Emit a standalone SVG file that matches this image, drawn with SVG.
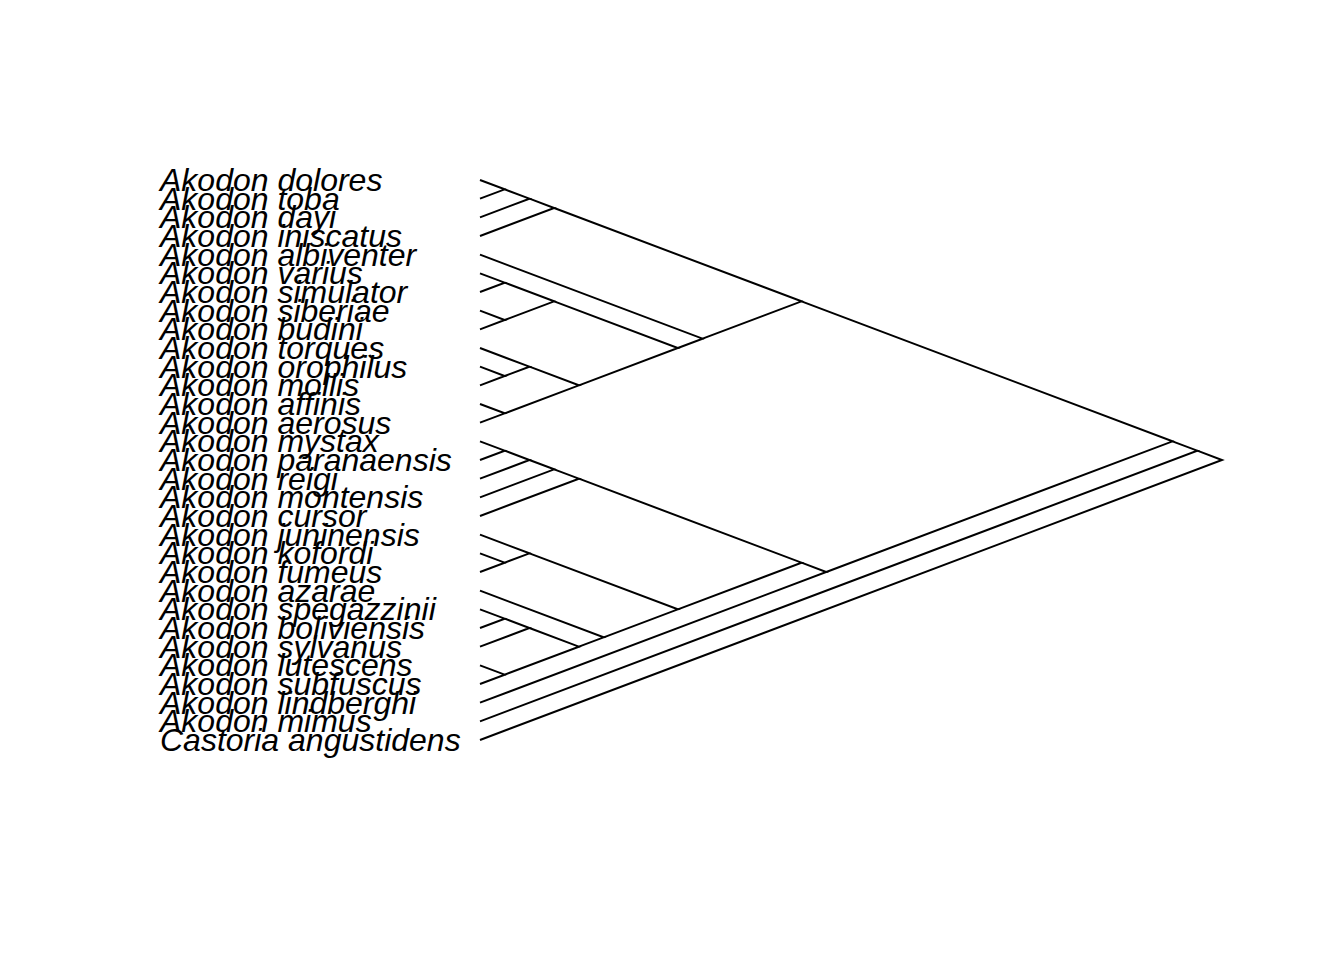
<svg xmlns="http://www.w3.org/2000/svg" width="1344" height="960" viewBox="0 0 1344 960">
<style>
.lbl{font-family:"Liberation Sans",Arial,sans-serif;font-style:italic;font-size:32px;fill:#000}
.edge{fill:none;stroke:#000;stroke-width:2;stroke-linejoin:miter;stroke-linecap:butt}
</style>
<rect x="0" y="0" width="1344" height="960" fill="#fff"/>
<g id="connectors">
<path class="edge" d="M1197.27,450.67 L1222,460 L480,740"/>
<path class="edge" d="M1172.53,441.33 L1197.27,450.67 L480,721.33"/>
<path class="edge" d="M801.53,301.33 L1172.53,441.33 L826.27,572"/>
<path class="edge" d="M554.2,208 L801.53,301.33 L702.6,338.67"/>
<path class="edge" d="M529.47,198.67 L554.2,208 L480,236"/>
<path class="edge" d="M504.73,189.33 L529.47,198.67 L480,217.33"/>
<path class="edge" d="M480,180 L504.73,189.33 L480,198.67"/>
<path class="edge" d="M480,254.67 L702.6,338.67 L677.87,348"/>
<path class="edge" d="M554.2,301.33 L677.87,348 L578.93,385.33"/>
<path class="edge" d="M504.73,282.67 L554.2,301.33 L504.73,320"/>
<path class="edge" d="M480,273.33 L504.73,282.67 L480,292"/>
<path class="edge" d="M480,310.67 L504.73,320 L480,329.33"/>
<path class="edge" d="M529.47,366.67 L578.93,385.33 L504.73,413.33"/>
<path class="edge" d="M480,348 L529.47,366.67 L504.73,376"/>
<path class="edge" d="M480,366.67 L504.73,376 L480,385.33"/>
<path class="edge" d="M480,404 L504.73,413.33 L480,422.67"/>
<path class="edge" d="M801.53,562.67 L826.27,572 L480,702.67"/>
<path class="edge" d="M578.93,478.67 L801.53,562.67 L677.87,609.33"/>
<path class="edge" d="M554.2,469.33 L578.93,478.67 L480,516"/>
<path class="edge" d="M529.47,460 L554.2,469.33 L480,497.33"/>
<path class="edge" d="M504.73,450.67 L529.47,460 L480,478.67"/>
<path class="edge" d="M480,441.33 L504.73,450.67 L480,460"/>
<path class="edge" d="M529.47,553.33 L677.87,609.33 L603.67,637.33"/>
<path class="edge" d="M480,534.67 L529.47,553.33 L504.73,562.67"/>
<path class="edge" d="M480,553.33 L504.73,562.67 L480,572"/>
<path class="edge" d="M480,590.67 L603.67,637.33 L578.93,646.67"/>
<path class="edge" d="M529.47,628 L578.93,646.67 L504.73,674.67"/>
<path class="edge" d="M504.73,618.67 L529.47,628 L480,646.67"/>
<path class="edge" d="M480,609.33 L504.73,618.67 L480,628"/>
<path class="edge" d="M480,665.33 L504.73,674.67 L480,684"/>
</g>
<g id="tip-dolores"><text class="lbl" x="160" y="191">Akodon dolores</text></g>
<g id="tip-toba"><text class="lbl" x="160" y="209.67">Akodon toba</text></g>
<g id="tip-dayi"><text class="lbl" x="160" y="228.33">Akodon dayi</text></g>
<g id="tip-iniscatus"><text class="lbl" x="160" y="247">Akodon iniscatus</text></g>
<g id="tip-albiventer"><text class="lbl" x="160" y="265.67">Akodon albiventer</text></g>
<g id="tip-varius"><text class="lbl" x="160" y="284.33">Akodon varius</text></g>
<g id="tip-simulator"><text class="lbl" x="160" y="303">Akodon simulator</text></g>
<g id="tip-siberiae"><text class="lbl" x="160" y="321.67">Akodon siberiae</text></g>
<g id="tip-budini"><text class="lbl" x="160" y="340.33">Akodon budini</text></g>
<g id="tip-torques"><text class="lbl" x="160" y="359">Akodon torques</text></g>
<g id="tip-orophilus"><text class="lbl" x="160" y="377.67">Akodon orophilus</text></g>
<g id="tip-mollis"><text class="lbl" x="160" y="396.33">Akodon mollis</text></g>
<g id="tip-affinis"><text class="lbl" x="160" y="415">Akodon affinis</text></g>
<g id="tip-aerosus"><text class="lbl" x="160" y="433.67">Akodon aerosus</text></g>
<g id="tip-mystax"><text class="lbl" x="160" y="452.33">Akodon mystax</text></g>
<g id="tip-paranaensis"><text class="lbl" x="160" y="471">Akodon paranaensis</text></g>
<g id="tip-reigi"><text class="lbl" x="160" y="489.67">Akodon reigi</text></g>
<g id="tip-montensis"><text class="lbl" x="160" y="508.33">Akodon montensis</text></g>
<g id="tip-cursor"><text class="lbl" x="160" y="527">Akodon cursor</text></g>
<g id="tip-juninensis"><text class="lbl" x="160" y="545.67">Akodon juninensis</text></g>
<g id="tip-kofordi"><text class="lbl" x="160" y="564.33">Akodon kofordi</text></g>
<g id="tip-fumeus"><text class="lbl" x="160" y="583">Akodon fumeus</text></g>
<g id="tip-azarae"><text class="lbl" x="160" y="601.67">Akodon azarae</text></g>
<g id="tip-spegazzinii"><text class="lbl" x="160" y="620.33">Akodon spegazzinii</text></g>
<g id="tip-boliviensis"><text class="lbl" x="160" y="639">Akodon boliviensis</text></g>
<g id="tip-sylvanus"><text class="lbl" x="160" y="657.67">Akodon sylvanus</text></g>
<g id="tip-lutescens"><text class="lbl" x="160" y="676.33">Akodon lutescens</text></g>
<g id="tip-subfuscus"><text class="lbl" x="160" y="695">Akodon subfuscus</text></g>
<g id="tip-lindberghi"><text class="lbl" x="160" y="713.67">Akodon lindberghi</text></g>
<g id="tip-mimus"><text class="lbl" x="160" y="732.33">Akodon mimus</text></g>
<g id="tip-angustidens"><text class="lbl" x="160" y="751">Castoria angustidens</text></g>
</svg>
